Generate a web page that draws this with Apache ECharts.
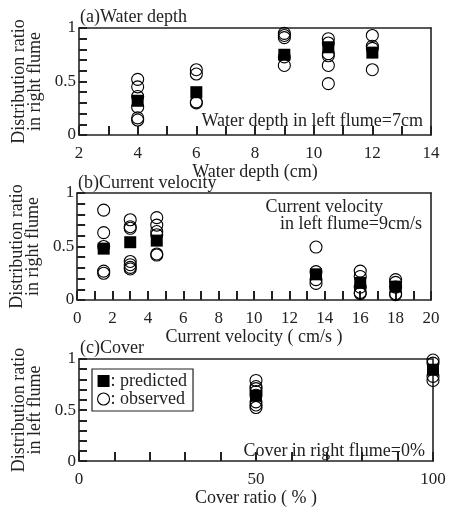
<!DOCTYPE html>
<html>
<head>
<meta charset="utf-8">
<script src="https://cdn.jsdelivr.net/npm/echarts@6/dist/echarts.min.js"></script>
<style>
  html, body { margin: 0; padding: 0; background: #fff; }
  #content { width: 449px; height: 508px; }
</style>
</head>
<body>
<div id="content"></div>
<script>
// (a) water depth
var depthX = [4, 6, 9, 10.5, 12];
var depthPred = [0.32, 0.40, 0.75, 0.82, 0.77];
var depthObs = [
    [0.52, 0.45, 0.36, 0.26, 0.16, 0.14],
    [0.61, 0.57, 0.31, 0.30],
    [0.95, 0.93, 0.91, 0.73, 0.65],
    [0.90, 0.86, 0.76, 0.74, 0.65, 0.48],
    [0.93, 0.83, 0.81, 0.61]
];
// (b) current velocity
var velX = [1.5, 3, 4.5, 13.5, 16, 18];
var velPred = [0.48, 0.54, 0.555, 0.24, 0.16, 0.125];
var velObs = [
    [0.84, 0.63, 0.50, 0.27, 0.25],
    [0.75, 0.685, 0.67, 0.36, 0.33, 0.305, 0.29],
    [0.77, 0.70, 0.64, 0.61, 0.43, 0.42],
    [0.495, 0.265, 0.19, 0.155],
    [0.27, 0.22, 0.12, 0.07, 0.06],
    [0.19, 0.165, 0.12, 0.06, 0.05]
];
// (c) cover
var coverX = [50, 100];
var coverPred = [0.64, 0.895];
var coverObs = [
    [0.79, 0.73, 0.71, 0.68, 0.645, 0.58, 0.55, 0.525],
    [0.99, 0.96, 0.83, 0.79]
];

function pairs(xs, ys) {
    var out = [];
    for (var i = 0; i < xs.length; i++) out.push([xs[i], ys[i]]);
    return out;
}
function groups(xs, lists) {
    var out = [];
    for (var i = 0; i < xs.length; i++) {
        for (var j = 0; j < lists[i].length; j++) out.push([xs[i], lists[i][j]]);
    }
    return out;
}

var FONT = '"Liberation Serif", "DejaVu Serif", serif';
var INK = '#222';

function xAx(idx, min, max, interval, minorSplit, name) {
    return {
        gridIndex: idx, type: 'value', min: min, max: max, interval: interval,
        name: name, nameLocation: 'middle', nameGap: 27,
        nameTextStyle: {fontFamily: FONT, fontSize: 18, color: INK},
        axisLine: {show: true, lineStyle: {color: INK, width: 1.6}},
        axisTick: {show: true, inside: true, length: 9, lineStyle: {color: INK, width: 2}},
        minorTick: {show: true, splitNumber: minorSplit, length: 9, lineStyle: {color: INK, width: 2}},
        axisLabel: {fontFamily: FONT, fontSize: 17, color: INK, margin: 10},
        splitLine: {show: false}
    };
}
function yAx(idx, name) {
    return {
        gridIndex: idx, type: 'value', min: 0, max: 1, interval: 0.5,
        name: name, nameLocation: 'middle', nameGap: 28, nameRotate: 90,
        nameTextStyle: {fontFamily: FONT, fontSize: 18, color: INK, lineHeight: 16},
        axisLine: {show: true, lineStyle: {color: INK, width: 1.6}},
        axisTick: {show: true, inside: true, length: 8, lineStyle: {color: INK, width: 2}},
        minorTick: {show: true, splitNumber: 5, length: 8, lineStyle: {color: INK, width: 2}},
        axisLabel: {fontFamily: FONT, fontSize: 17, color: INK, margin: 3,
            formatter: function (v) { return v === 1 ? '1' : (v === 0 ? '0' : String(v)); }},
        splitLine: {show: false}
    };
}
// plain frame lines on the top / right sides
function frame(idx, pos, min, max) {
    return {
        gridIndex: idx, type: 'value', position: pos, min: min, max: max,
        axisLine: {show: true, onZero: false, lineStyle: {color: INK, width: 1.6}},
        axisTick: {show: false}, axisLabel: {show: false}, splitLine: {show: false}
    };
}
function obsSeries(idx, data) {
    return {
        name: 'observed', type: 'scatter', xAxisIndex: idx, yAxisIndex: idx,
        symbol: 'circle', symbolSize: 12, data: data, z: 6,
        itemStyle: {color: 'rgba(255,255,255,0)', borderColor: '#000', borderWidth: 1.1, opacity: 1}
    };
}
function predSeries(idx, data) {
    return {
        name: 'predicted', type: 'scatter', xAxisIndex: idx, yAxisIndex: idx,
        symbol: 'rect', symbolSize: 12, data: data, z: 7,
        itemStyle: {color: '#000', opacity: 1}
    };
}
function label(pos, text) {
    var g = {type: 'text', style: {text: text, fontFamily: FONT, fontSize: 18, fill: INK}};
    for (var k in pos) g[k] = pos[k];
    return g;
}

var myChart = echarts.init(document.getElementById('content'));
myChart.setOption({
    animation: false,
    grid: [
        {left: 79, top: 28, right: 18, height: 107},
        {left: 77, top: 193, right: 18, height: 107},
        {left: 79, top: 359, right: 16, height: 106}
    ],
    xAxis: [
        xAx(0, 2, 14, 2, 2, 'Water depth (cm)'),
        xAx(1, 0, 20, 2, 2, 'Current velocity ( cm/s )'),
        xAx(2, 0, 100, 50, 5, 'Cover ratio ( % )'),
        frame(0, 'top', 2, 14),
        frame(1, 'top', 0, 20),
        frame(2, 'top', 0, 100)
    ],
    yAxis: [
        yAx(0, 'Distribution ratio\nin right flume'),
        yAx(1, 'Distribution ratio\nin right flume'),
        yAx(2, 'Distribution ratio\nin left flume'),
        frame(0, 'right', 0, 1),
        frame(1, 'right', 0, 1),
        frame(2, 'right', 0, 1)
    ],
    legend: {
        orient: 'vertical', left: 92, top: 369,
        padding: [3, 6, 3, 5], itemGap: 0, itemWidth: 12, itemHeight: 12,
        borderColor: INK, borderWidth: 1.2, selectedMode: false,
        textStyle: {fontFamily: FONT, fontSize: 18, color: INK, padding: [0, 0, 0, -4], lineHeight: 17},
        formatter: function (n) { return ': ' + n; },
        data: [
            {name: 'predicted', icon: 'rect', itemStyle: {color: '#000', opacity: 1}},
            {name: 'observed', icon: 'circle', itemStyle: {color: '#fff', borderColor: '#000', borderWidth: 1.1, opacity: 1}}
        ]
    },
    graphic: [
        label({left: 80, top: 8}, '(a)Water depth'),
        label({left: 78, top: 174}, '(b)Current velocity'),
        label({left: 80, top: 339}, '(c)Cover'),
        label({right: 26, top: 112}, 'Water depth in left flume=7cm'),
        label({right: 66, top: 198}, 'Current velocity'),
        label({right: 27, top: 215}, 'in left flume=9cm/s'),
        label({right: 24, top: 442}, 'Cover in right flume=0%')
    ],
    series: [
        obsSeries(0, groups(depthX, depthObs)),
        predSeries(0, pairs(depthX, depthPred)),
        obsSeries(1, groups(velX, velObs)),
        predSeries(1, pairs(velX, velPred)),
        obsSeries(2, groups(coverX, coverObs)),
        predSeries(2, pairs(coverX, coverPred))
    ]
});
</script>
</body>
</html>
